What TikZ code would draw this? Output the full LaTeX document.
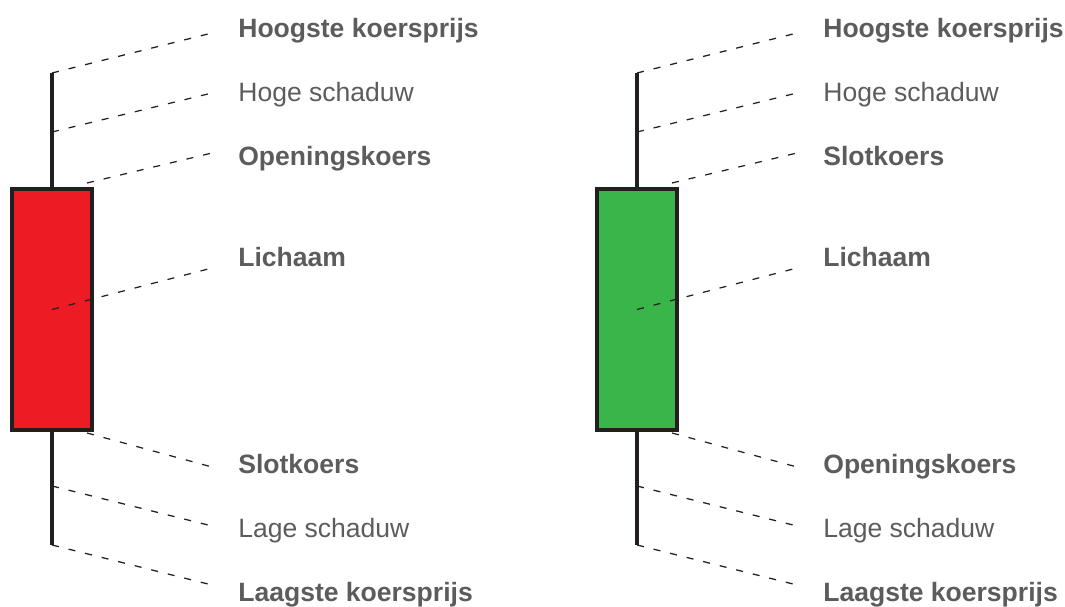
\documentclass[tikz,border=0pt]{standalone}
\usepackage{fontspec}
\setmainfont{Liberation Sans}
\definecolor{candlered}{HTML}{ED1C24}
\definecolor{candlegreen}{HTML}{39B54A}
\definecolor{outline}{HTML}{231F20}
\definecolor{labelgray}{HTML}{5C5C5C}

\begin{document}
\begin{tikzpicture}[
                    x=0.02cm, y=-0.02cm, % one unit is one pixel of the sketch
                    every node/.style={font=\fontsize{15.1}{18}\selectfont, text=labelgray, inner sep=0pt},
                    body/.style={draw=outline, line width=2.27pt, minimum width=1.6cm, minimum height=4.82cm},
                    wick/.style={draw=outline, line width=2.27pt},
                    guide/.style={draw=outline, line width=0.7pt, dash pattern=on 4pt off 5.7pt},
                    lbl/.style={anchor=base west},
                    lblb/.style={anchor=base west, font=\fontsize{15.1}{18}\selectfont\bfseries}
                ]

                \useasboundingbox (0,0) rectangle (1065,607);

                \foreach \c/\dx/\fc/\ta/\tb in {r/0/candlered/Openingskoers/Slotkoers, g/585/candlegreen/Slotkoers/Openingskoers}{
                    \begin{scope}[shift={(\dx,0)}]
                        % candle
                        \draw[wick] (52,73) coordinate (\c-top) -- (52,545) coordinate (\c-bottom);
                        \node[body, fill=\fc] (\c-body) at (52,309.5) {};
                        \coordinate (\c-upshadow) at (52,132);
                        \coordinate (\c-downshadow) at (52,486);
                        \coordinate (\c-tedge) at (87,183);
                        \coordinate (\c-bedge) at (87,433);

                        % labels
                        \node[lblb] (\c-high) at (238,38) {Hoogste koersprijs};
                        \node[lbl] (\c-upper) at (238,102) {Hoge schaduw};
                        \node[lblb] (\c-first) at (238,165.5) {\ta};
                        \node[lblb] (\c-mid) at (238,267) {Lichaam};
                        \node[lblb] (\c-second) at (238,474) {\tb};
                        \node[lbl] (\c-lower) at (238,538) {Lage schaduw};
                        \node[lblb] (\c-low) at (238,602) {Laagste koersprijs};

                        % dashed guides
                        \foreach \from/\y [count=\i] in {top/33, upshadow/93, tedge/153, body/268, bedge/467, downshadow/526, bottom/585}{
                            \coordinate (\c-end\i) at (212,\y);
                            \draw[guide] (\c-\from.center) -- (\c-end\i);
                        }
                    \end{scope}
                }
            \end{tikzpicture}
\end{document}
